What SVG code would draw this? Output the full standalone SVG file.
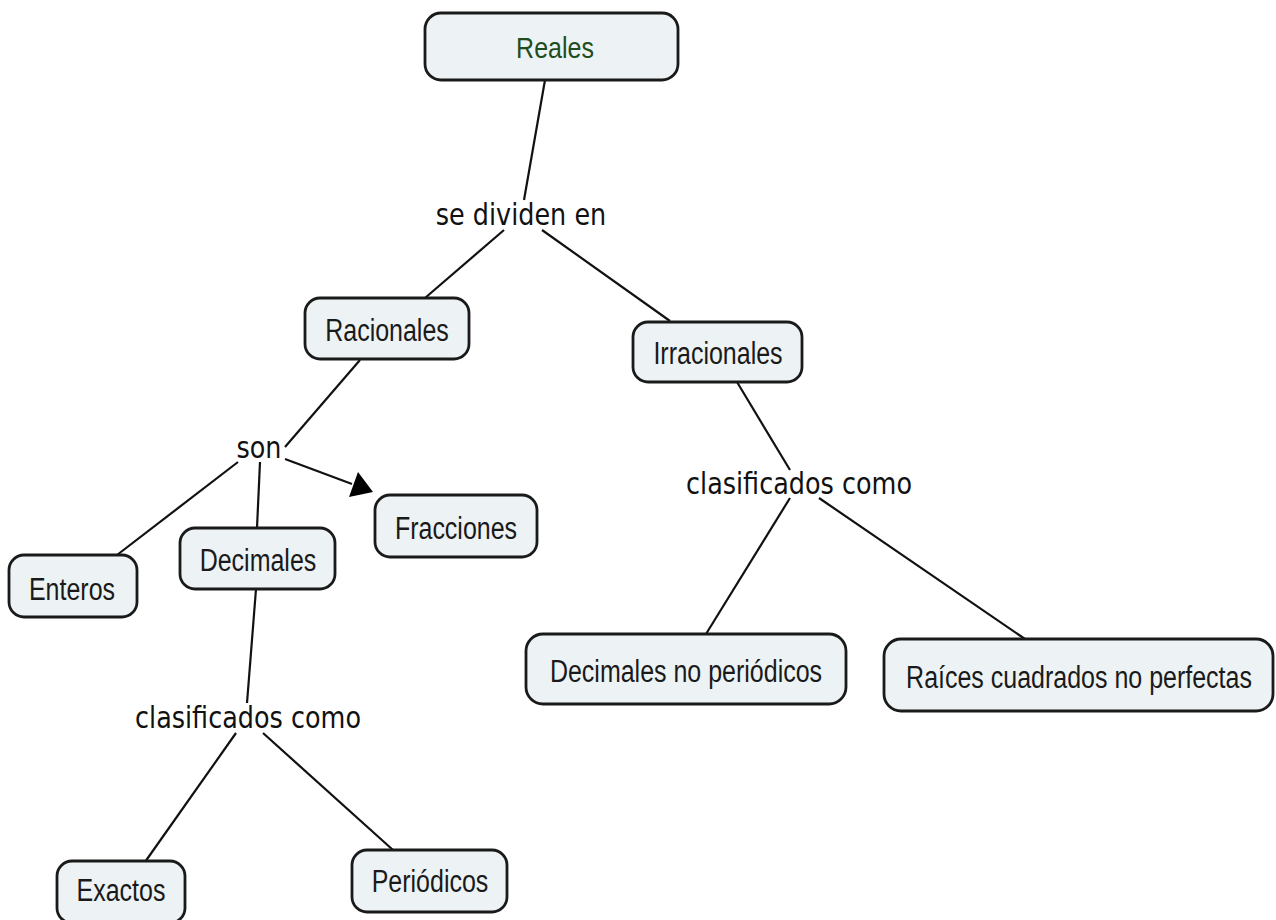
<svg xmlns="http://www.w3.org/2000/svg" width="1276" height="920" viewBox="0 0 1276 920">
<defs>
<style>
.box{fill:#edf3f5;stroke:#1a1a1a;stroke-width:2.8}
.nt{font-family:"Liberation Sans",Arial,sans-serif;font-size:25px;fill:#1a1a1a;text-anchor:middle}
.lt{font-family:"DejaVu Sans",Verdana,sans-serif;font-size:25.5px;fill:#111;text-anchor:middle}
.ln{stroke:#111;stroke-width:2.2;fill:none}
</style>
</defs>
<rect width="1276" height="920" fill="#fff"/>
<g id="connectors">
<line class="ln" x1="545" y1="80" x2="524" y2="200"/>
<line class="ln" x1="504" y1="230" x2="425" y2="298"/>
<line class="ln" x1="542" y1="230" x2="670" y2="321"/>
<line class="ln" x1="360" y1="360" x2="285" y2="447"/>
<line class="ln" x1="238" y1="462" x2="117" y2="555"/>
<line class="ln" x1="260" y1="462" x2="257" y2="528"/>
<line class="ln" x1="285" y1="459" x2="352" y2="484"/>
<path d="M349,497 L373,492 L358,472 z" fill="#000"/>
<line class="ln" x1="256" y1="589" x2="247" y2="703"/>
<line class="ln" x1="236" y1="733" x2="145" y2="862"/>
<line class="ln" x1="263" y1="733" x2="393" y2="850"/>
<line class="ln" x1="737" y1="382" x2="790" y2="470"/>
<line class="ln" x1="790" y1="498" x2="706" y2="634"/>
<line class="ln" x1="819" y1="498" x2="1025" y2="639"/>
</g>
<g id="lp-se-dividen"><text class="lt" transform="translate(521,225) scale(1,1.18)">se dividen en</text></g>
<g id="lp-son"><text class="lt" transform="translate(259,458) scale(1,1.18)">son</text></g>
<g id="lp-clasif-left"><text class="lt" transform="translate(248,728) scale(1,1.18)">clasificados como</text></g>
<g id="lp-clasif-right"><text class="lt" transform="translate(799,494) scale(1,1.18)">clasificados como</text></g>
<g id="n-reales"><rect class="box" x="425" y="13" width="253" height="67" rx="16"/><text class="nt" transform="translate(555,58) scale(1,1.2)" style="fill:#1e4d1e">Reales</text></g>
<g id="n-racionales"><rect class="box" x="305" y="298" width="164" height="61" rx="15"/><text class="nt" transform="translate(387,341) scale(1,1.25)">Racionales</text></g>
<g id="n-irracionales"><rect class="box" x="633" y="322" width="169" height="60" rx="15"/><text class="nt" transform="translate(718,364) scale(1,1.25)">Irracionales</text></g>
<g id="n-fracciones"><rect class="box" x="375" y="495" width="162" height="62" rx="15"/><text class="nt" transform="translate(456,539) scale(1,1.25)">Fracciones</text></g>
<g id="n-decimales"><rect class="box" x="180" y="528" width="155" height="61" rx="15"/><text class="nt" transform="translate(258,571) scale(1,1.25)">Decimales</text></g>
<g id="n-enteros"><rect class="box" x="9" y="555" width="128" height="62" rx="15"/><text class="nt" transform="translate(72,600) scale(1,1.25)">Enteros</text></g>
<g id="n-dec-no-per"><rect class="box" x="526" y="634" width="320" height="70" rx="17"/><text class="nt" transform="translate(686,682) scale(1,1.25)">Decimales no periódicos</text></g>
<g id="n-raices"><rect class="box" x="884" y="639" width="389" height="72" rx="17"/><text class="nt" transform="translate(1079,688) scale(1,1.25)">Raíces cuadrados no perfectas</text></g>
<g id="n-exactos"><rect class="box" x="57" y="861" width="128" height="62" rx="15"/><text class="nt" transform="translate(121,901) scale(1,1.25)">Exactos</text></g>
<g id="n-periodicos"><rect class="box" x="352" y="850" width="155" height="62" rx="15"/><text class="nt" transform="translate(430,892) scale(1,1.25)">Periódicos</text></g>
</svg>
